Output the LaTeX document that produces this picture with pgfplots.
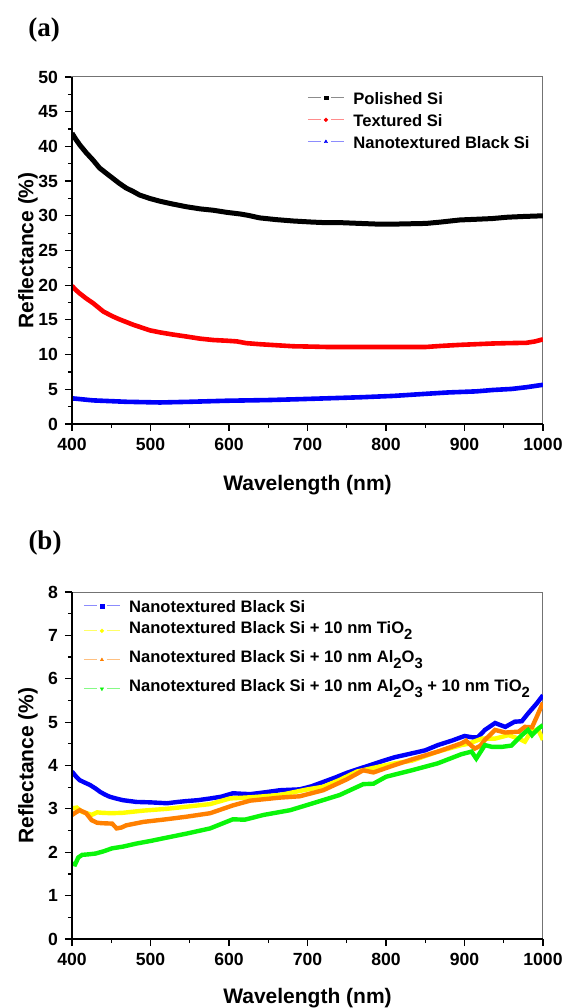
\documentclass[border=0pt]{standalone}
\usepackage{pgfplots}
\pgfplotsset{compat=1.18}
\usepackage{fontspec}
\setmainfont{Liberation Sans}
\newfontfamily\panelfont{Liberation Serif}

\definecolor{cblue}{RGB}{0,0,250}
\definecolor{cyel}{RGB}{255,255,0}
\definecolor{corange}{RGB}{255,128,0}
\definecolor{cgreen}{RGB}{10,245,10}

\newcommand{\sub}[1]{\raisebox{-0.7ex}{\fontsize{7.4}{8}\selectfont #1}}
% #1 line colour, #2 mark, #3 mark colour, #4 extra mark options
\newcommand{\legimg}[4]{%
  \draw[#1, line width=0.5pt] (0pt,0pt) -- (6.5pt,0pt);
  \draw[#1, line width=0.5pt] (11.5pt,0pt) -- (18pt,0pt);
  \draw[#3] plot[only marks, mark=#2, mark size=0.95pt, mark options={fill=#3,draw=#3,line width=0.2pt,#4}] coordinates {(9pt,0pt)};
  \path (21.5pt,0pt);}

\pgfplotsset{myax/.style={
  anchor=south west, scale only axis, width=235.5pt, height=173.5pt,
  xmin=400, xmax=1000, xtick={400,500,...,1000},
  minor x tick num=1, minor y tick num=1,
  tick align=outside, tick pos=left,
  major tick length=3.5pt, minor tick length=2pt,
  every tick/.style={black, line width=0.6pt},
  axis line style={black!55, line width=0.5pt},
  tick label style={font=\fontsize{8.8}{10}\selectfont\bfseries},
  /pgf/number format/assume math mode=true,
  /pgf/number format/1000 sep={},
  label style={font=\fontsize{10.5}{12}\selectfont\bfseries},
  xlabel={Wavelength (nm)}, ylabel={Reflectance (\%)},
  ylabel style={at={(axis description cs:-0.0934,0.5)}, anchor=center},
  no markers, clip=true,
  legend cell align=left,
}}

\begin{document}
\begin{tikzpicture}
\useasboundingbox (0,0) rectangle (282.5pt,504pt);
\node[font=\panelfont\bfseries\fontsize{13.5}{15}\selectfont] at (22pt,489pt) {(a)};
\node[font=\panelfont\bfseries\fontsize{13.5}{15}\selectfont] at (22.5pt,232.5pt) {(b)};

% ---------------- panel (a) ----------------
\begin{axis}[myax, at={(36pt,292pt)},
  ymin=0, ymax=50, ytick={0,5,...,50},
  xlabel style={at={(axis description cs:0.5,-0.175)}, anchor=center},
  legend style={at={(0.499,0.96)}, anchor=north west, draw=none, fill=none,
    inner sep=0pt, row sep=4.5pt,
    nodes={inner sep=0pt, text height=6.5pt, text depth=0pt},
    font=\fontsize{8.3}{10}\selectfont\bfseries},
]
\addplot[black, line width=2.5pt, legend image code/.code={\legimg{black!45}{square*}{black}{}}] coordinates {
(400,41.9) (405,41.0) (410,40.2) (418,39.1) (427,38.0) (435,36.9) (444,36.1) (452,35.4)
(460,34.7) (469,34.0) (478,33.5) (486,33.0) (499,32.5) (512,32.1) (528,31.7) (546,31.3)
(563,31.0) (580,30.8) (597,30.5) (615,30.25) (625,30.05) (639,29.7) (660,29.45) (682,29.25)
(705,29.1) (725,29.0) (745,29.0) (767,28.9) (790,28.8) (810,28.8) (830,28.85) (851,28.9)
(870,29.1) (894,29.4) (915,29.5) (935,29.6) (955,29.8) (975,29.9) (1000,30.0)};
\addlegendentry{Polished Si}
\addplot[red, line width=2.3pt, legend image code/.code={\legimg{red!45}{*}{red}{}}] coordinates {
(400,19.9) (405,19.3) (410,18.8) (418,18.1) (427,17.4) (440,16.2) (452,15.5) (460,15.1)
(469,14.7) (478,14.3) (486,14.0) (499,13.5) (512,13.2) (528,12.9) (546,12.6) (563,12.3)
(580,12.1) (597,12.0) (610,11.9) (622,11.65) (639,11.5) (660,11.35) (682,11.2) (705,11.15)
(724,11.1) (760,11.1) (809,11.1) (851,11.1) (870,11.25) (894,11.4) (915,11.5) (936,11.6)
(955,11.65) (979,11.7) (990,11.9) (1000,12.2)};
\addlegendentry{Textured Si}
\addplot[cblue, line width=2.3pt, legend image code/.code={\legimg{cblue!45}{triangle*}{cblue}{}}] coordinates {
(400,3.7) (427,3.4) (469,3.2) (512,3.1) (550,3.2) (597,3.35) (650,3.45) (682,3.55)
(725,3.7) (767,3.85) (810,4.05) (851,4.35) (880,4.55) (915,4.7) (936,4.9) (960,5.05)
(979,5.3) (1000,5.65)};
\addlegendentry{Nanotextured Black Si}
\end{axis}
\draw[black, line width=0.8pt] (36pt,465.5pt) -- (36pt,292pt) -- (271.5pt,292pt);

% ---------------- panel (b) ----------------
\begin{axis}[myax, at={(36pt,34.5pt)},
  ymin=0, ymax=8, ytick={0,1,...,8},
  xlabel style={at={(axis description cs:0.5,-0.17)}, anchor=center},
  legend style={at={(0.0234,0.98)}, anchor=north west, draw=none, fill=none,
    inner sep=0pt, row sep=4pt,
    nodes={inner sep=0pt, text height=6.5pt},
    font=\fontsize{8.3}{10}\selectfont\bfseries},
]
\addplot[cblue, line width=2.2pt, legend image code/.code={\legimg{cblue!45}{square*}{cblue}{}}] coordinates {
(400,3.86) (405,3.75) (410,3.66) (417,3.60) (423,3.55) (430,3.47) (436,3.39) (442,3.33)
(448,3.28) (456,3.24) (465,3.20) (482,3.16) (500,3.15) (521,3.13) (535,3.16) (546,3.18)
(560,3.20) (576,3.24) (590,3.28) (605,3.36) (615,3.35) (627,3.34) (645,3.38) (665,3.43)
(690,3.45) (705,3.52) (720,3.62) (735,3.72) (750,3.83) (765,3.92) (780,4.01) (795,4.10)
(811,4.19) (833,4.28) (850,4.35) (866,4.47) (885,4.58) (900,4.68) (910,4.65) (917,4.65)
(926,4.82) (939,4.98) (946,4.93) (952,4.89) (964,5.01) (973,5.02) (981,5.20) (992,5.43)
(1000,5.62)};
\addlegendentry[text depth=0pt]{Nanotextured Black Si}
\addplot[cyel, line width=2.2pt, legend image code/.code={\legimg{cyel!60}{*}{cyel}{}}] coordinates {
(400,3.01) (406,3.03) (413,2.93) (419,2.90) (425,2.86) (432,2.92) (438,2.91) (450,2.90)
(465,2.91) (491,2.96) (520,3.00) (546,3.05) (576,3.11) (601,3.24) (630,3.27) (665,3.32)
(700,3.45) (720,3.51) (740,3.66) (763,3.86) (785,3.95) (811,4.05) (833,4.11) (866,4.32)
(896,4.47) (905,4.50) (922,4.62) (939,4.62) (956,4.70) (969,4.62) (977,4.55) (986,4.82)
(994,4.82) (1000,4.59)};
\addlegendentry[text depth=4pt]{Nanotextured Black Si + 10 nm TiO\sub{2}}
\addplot[corange, line width=2.2pt, legend image code/.code={\legimg{corange!50}{triangle*}{corange}{}}] coordinates {
(400,2.86) (405,2.92) (410,2.97) (418,2.90) (425,2.74) (432,2.68) (438,2.67) (451,2.66)
(457,2.55) (463,2.57) (469,2.62) (480,2.66) (491,2.70) (520,2.76) (546,2.82) (576,2.90)
(605,3.08) (627,3.19) (665,3.26) (690,3.29) (720,3.43) (750,3.68) (771,3.89) (784,3.84)
(811,4.01) (833,4.14) (866,4.32) (896,4.51) (902,4.57) (913,4.39) (920,4.45) (926,4.59)
(939,4.82) (952,4.76) (969,4.78) (977,4.89) (986,4.88) (992,5.12) (1000,5.45)};
\addlegendentry[text depth=4pt]{Nanotextured Black Si + 10 nm Al\sub{2}O\sub{3}}
\addplot[cgreen, line width=2.2pt, legend image code/.code={\legimg{cgreen!50}{triangle*}{cgreen}{rotate=180}}] coordinates {
(400,1.74) (404,1.72) (408,1.88) (413,1.94) (420,1.95) (430,1.97) (440,2.02) (451,2.09)
(465,2.13) (482,2.20) (500,2.26) (516,2.32) (546,2.43) (576,2.55) (605,2.76) (620,2.75)
(644,2.86) (678,2.97) (707,3.13) (741,3.32) (771,3.57) (784,3.58) (800,3.74) (833,3.89)
(866,4.05) (896,4.26) (909,4.32) (915,4.16) (926,4.47) (935,4.43) (948,4.43) (960,4.46)
(973,4.70) (981,4.82) (986,4.70) (994,4.85) (1000,4.93)};
\addlegendentry[text depth=4pt]{Nanotextured Black Si + 10 nm Al\sub{2}O\sub{3} + 10 nm TiO\sub{2}}
\end{axis}
\draw[black, line width=0.8pt] (36pt,208pt) -- (36pt,34.5pt) -- (271.5pt,34.5pt);
\end{tikzpicture}
\end{document}
